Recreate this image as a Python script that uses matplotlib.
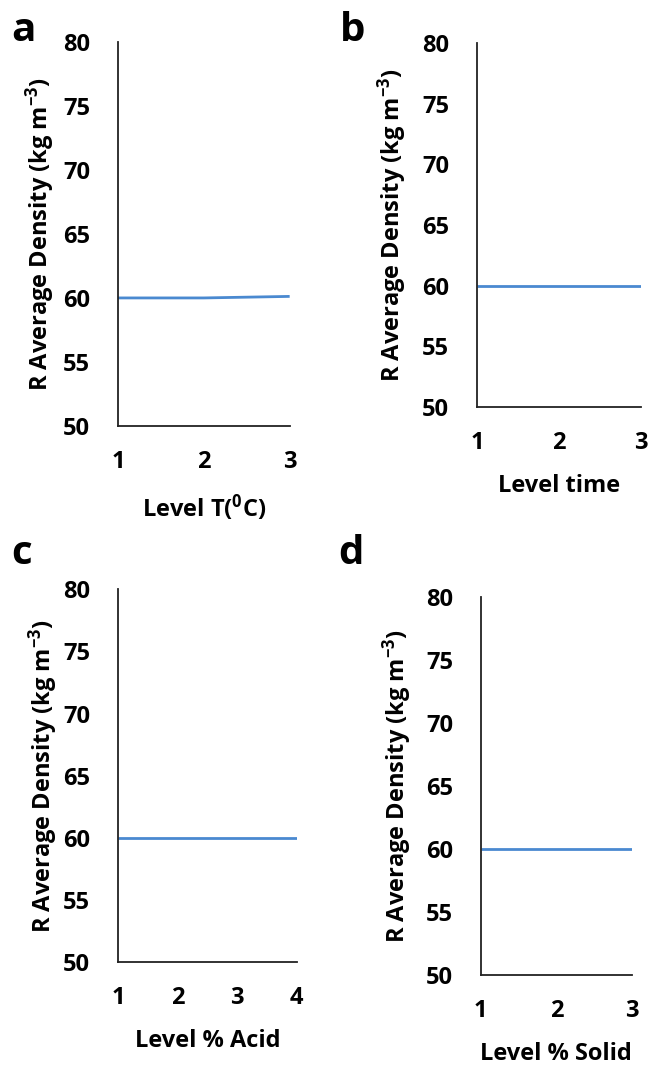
import matplotlib
matplotlib.use('Agg')
import matplotlib.pyplot as plt

plt.rcParams['font.family'] = ['Open Sans', 'DejaVu Sans']
plt.rcParams['font.weight'] = 'bold'
plt.rcParams['mathtext.fontset'] = 'custom'
plt.rcParams['mathtext.default'] = 'bf'
plt.rcParams['mathtext.bf'] = 'Open Sans:bold'
plt.rcParams['mathtext.rm'] = 'Open Sans:bold'

# data
levels_a = [1, 2, 3]
density_a = [60.0, 60.0, 60.12]
levels_b = [1, 2, 3]
density_b = [60.0, 60.0, 60.0]
levels_c = [1, 2, 3, 4]
density_c = [60.0, 60.0, 60.0, 60.0]
levels_d = [1, 2, 3]
density_d = [60.0, 60.0, 60.0]

y_ticks = [50, 55, 60, 65, 70, 75, 80]
ylabel = 'R Average Density (kg m$^{-3}$)'
xlabels = ['Level T($^{0}$C)', 'Level time', 'Level % Acid', 'Level % Solid']
letters = ['a', 'b', 'c', 'd']

# axes boxes in figure fractions [left, bottom, width, height]
boxes = [
  [0.182, 0.6056, 0.265, 0.3556],
  [0.736, 0.6231, 0.253, 0.337],
  [0.182, 0.1093, 0.276, 0.345],
  [0.742, 0.0972, 0.233, 0.350],
]
letter_pos = [(0.018, 0.962), (0.524, 0.962), (0.018, 0.478), (0.522, 0.478)]
ylabel_x = [-0.355, -0.415, -0.323, -0.444]

W, H = 648, 1080
fig = plt.figure(figsize=(W / 100, H / 100), dpi=100)

series = [(levels_a, density_a), (levels_b, density_b),
          (levels_c, density_c), (levels_d, density_d)]

for i, (xs, ys) in enumerate(series):
  ax = fig.add_axes(boxes[i])
  ax.plot(xs, ys, color='#4A89D0', lw=2.0, solid_capstyle='butt')
  ax.set_xlim(xs[0], xs[-1])
  ax.set_ylim(50, 80)
  ax.set_xticks(xs)
  ax.set_yticks(y_ticks)
  for s in ['top', 'right']:
    ax.spines[s].set_visible(False)
  for s in ['left', 'bottom']:
    ax.spines[s].set_linewidth(1.3)
    ax.spines[s].set_color('#222222')
  ax.tick_params(length=0, labelsize=17, pad=20)
  ax.tick_params(axis='x', pad=17)
  ax.set_ylabel(ylabel, fontsize=17, fontweight='bold')
  ax.yaxis.set_label_coords(ylabel_x[i], 0.5)
  ax.set_xlabel(xlabels[i], fontsize=17, fontweight='bold', labelpad=14)
  fig.text(letter_pos[i][0], letter_pos[i][1], letters[i], fontsize=29,
           fontweight='bold', ha='left', va='baseline')

fig.savefig('out.png', dpi=100)
